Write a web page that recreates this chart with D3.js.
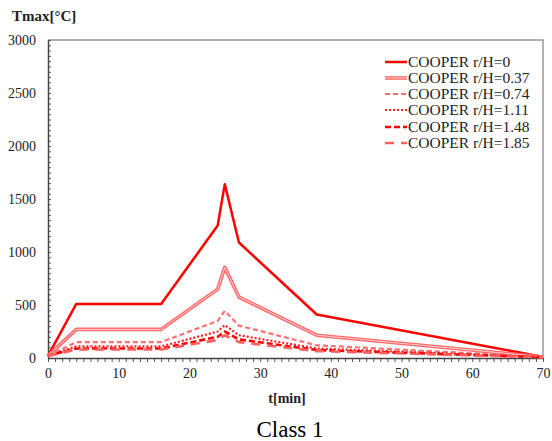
<!DOCTYPE html>
<html>
<head>
<meta charset="utf-8">
<script src="https://cdn.jsdelivr.net/npm/d3@7"></script>
<style>
body{margin:0;background:#fff;}
text{font-family:"Liberation Serif","Times New Roman",serif;}
</style>
</head>
<body>
<div id="chart"></div>
<script>
var WIDTH=552, HEIGHT=441;
var LEFT=48, RIGHT=543, TOP=40, BOTTOM=358;

// datos
var times=[0,4,16,24,25,27,38,70];
var names=["COOPER r/H=0","COOPER r/H=0.37","COOPER r/H=0.74","COOPER r/H=1.11","COOPER r/H=1.48","COOPER r/H=1.85"];
var s0=[20,510,510,1250,1640,1090,410,10];
var s1=[20,270,270,650,855,575,215,10];
var s2=[20,150,150,350,445,305,120,10];
var s3=[20,110,110,250,310,215,90,8];
var s4=[20,90,90,200,250,175,75,7];
var s5=[20,80,80,170,215,150,65,6];
var series=[s0,s1,s2,s3,s4,s5];
var xTicks=[0,10,20,30,40,50,60,70];
var yTicks=[0,500,1000,1500,2000,2500,3000];

// estilos de cada serie
var styles=[
  {color:"#ff0000",width:2.5,dash:null},
  {color:"#ff6868",width:3.6,dash:null,inner:"#ffd0d0"},
  {color:"#ff7070",width:2.2,dash:"5,3"},
  {color:"#ff2020",width:2.2,dash:"2,2"},
  {color:"#ff0000",width:2.6,dash:"6,3"},
  {color:"#ff6060",width:2.6,dash:"9,7"}
];

var svg=d3.select("#chart").append("svg")
  .attr("width",WIDTH)
  .attr("height",HEIGHT);

var scaleX=d3.scaleLinear().domain([0,70]).range([LEFT,RIGHT]);
var scaleY=d3.scaleLinear().domain([0,3000]).range([BOTTOM,TOP]);

// marco gris arriba y derecha
svg.append("path")
  .attr("d","M"+LEFT+","+TOP+"H"+RIGHT+"V"+BOTTOM)
  .attr("fill","none")
  .attr("stroke","#999")
  .attr("stroke-width",1.5);

// ticks menores
svg.append("g")
  .attr("transform","translate("+LEFT+",0)")
  .call(d3.axisRight(scaleY).tickValues(d3.range(0,3001,50)).tickSize(3).tickFormat(""))
  .call(function(g){g.select(".domain").remove();g.selectAll("line").attr("stroke","#555");});
svg.append("g")
  .attr("transform","translate(0,"+BOTTOM+")")
  .call(d3.axisBottom(scaleX).tickValues(d3.range(0,71,1)).tickSize(4).tickFormat(""))
  .call(function(g){g.select(".domain").remove();g.selectAll("line").attr("stroke","#555");});

// ejes
var yAxis=svg.append("g")
  .attr("transform","translate("+LEFT+",0)")
  .call(d3.axisLeft(scaleY).tickValues(yTicks).tickSize(0).tickPadding(12).tickFormat(d3.format("d")));
var xAxis=svg.append("g")
  .attr("transform","translate(0,"+BOTTOM+")")
  .call(d3.axisBottom(scaleX).tickValues(xTicks).tickSize(0).tickPadding(10).tickFormat(d3.format("d")));
[xAxis,yAxis].forEach(function(g){
  g.select(".domain").attr("stroke","#444").attr("stroke-width",1.5);
  g.selectAll("text").style("font-family","Liberation Serif").style("font-size","14px").attr("fill","#222");
});

// lineas
var line=d3.line()
  .x(function(d,i){return scaleX(times[i]);})
  .y(function(d){return scaleY(d);});

series.forEach(function(s,k){
  var st=styles[k];
  svg.append("path")
    .datum(s)
    .attr("d",line)
    .attr("fill","none")
    .attr("stroke",st.color)
    .attr("stroke-width",st.width)
    .attr("stroke-dasharray",st.dash)
    .attr("stroke-linejoin","round");
  if(st.inner){
    svg.append("path")
      .datum(s)
      .attr("d",line)
      .attr("fill","none")
      .attr("stroke",st.inner)
      .attr("stroke-width",1);
  }
});

// leyenda
var legY=[62,78,94,110,127,143];
names.forEach(function(n,k){
  var st=styles[k];
  var y=legY[k];
  svg.append("line")
    .attr("x1",385).attr("x2",407).attr("y1",y).attr("y2",y)
    .attr("stroke",st.color)
    .attr("stroke-width",st.width)
    .attr("stroke-dasharray",st.dash);
  if(st.inner){
    svg.append("line")
      .attr("x1",385).attr("x2",407).attr("y1",y).attr("y2",y)
      .attr("stroke",st.inner).attr("stroke-width",1);
  }
  svg.append("text")
    .attr("x",408).attr("y",y+5)
    .style("font-size","15.5px")
    .attr("fill","#222")
    .text(n);
});

// titulos
svg.append("text")
  .attr("x",12).attr("y",21)
  .style("font-size","15px")
  .style("font-weight","bold")
  .attr("fill","#222")
  .text("Tmax[°C]");
svg.append("text")
  .attr("x",287).attr("y",403)
  .style("text-anchor","middle")
  .style("font-size","14px")
  .style("font-weight","bold")
  .attr("fill","#222")
  .text("t[min]");
svg.append("text")
  .attr("x",290).attr("y",437)
  .style("text-anchor","middle")
  .style("font-size","23px")
  .attr("fill","#000")
  .text("Class 1");
</script>
</body>
</html>
